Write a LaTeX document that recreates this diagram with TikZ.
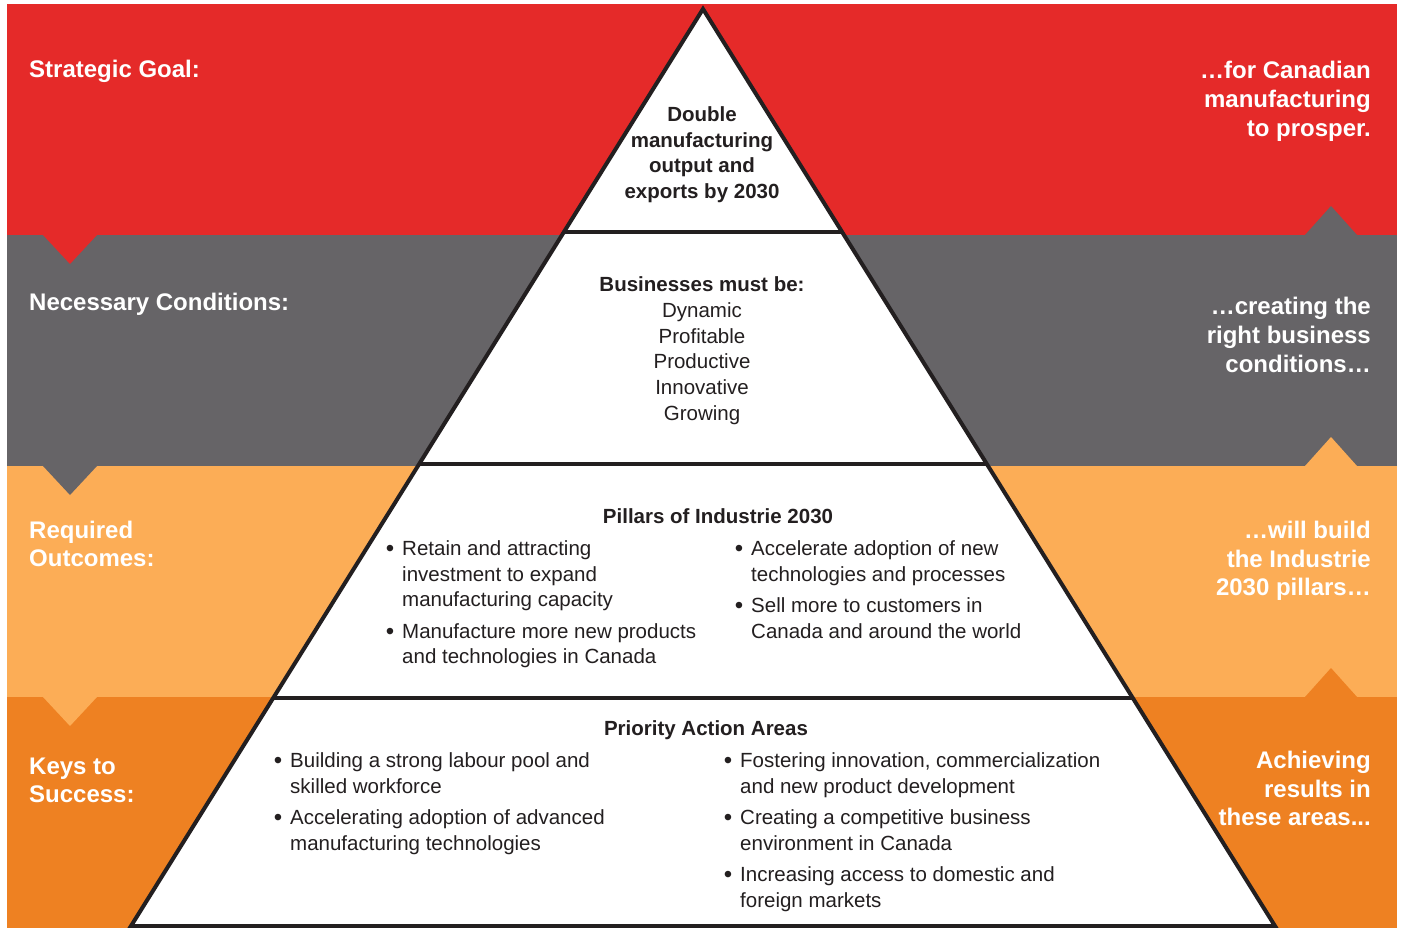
\documentclass[tikz,border=0pt]{standalone}
\usepackage{fontspec}
\setmainfont{Liberation Sans}
\usetikzlibrary{calc}
\definecolor{goalred}{HTML}{E52A29}
\definecolor{condgray}{HTML}{666467}
\definecolor{outlight}{HTML}{FCAD56}
\definecolor{keyorange}{HTML}{EE8122}
\definecolor{ink}{HTML}{231F20}
\begin{document}
\begin{tikzpicture}[x=1pt,y=-1pt,
  sidelabel/.style={inner sep=0pt, text=white, font=\fontsize{24}{28}\selectfont\bfseries},
  body/.style={inner sep=0pt, text=ink, font=\fontsize{20.5}{25}\selectfont},
  head/.style={inner sep=0pt, text=ink, font=\fontsize{20.5}{25}\selectfont\bfseries},
  dot/.style={inner sep=0pt, text=ink, font=\fontsize{24}{25}\selectfont},
  divider/.style={line width=4.5pt, ink}]
\useasboundingbox (0,0) rectangle (1401,928);
\fill[white] (0,0) rectangle (1401,928);

% coloured bands
\fill[goalred]    (7,4)   rectangle (1397,235);
\fill[condgray]   (7,235) rectangle (1397,466);
\fill[outlight]   (7,466) rectangle (1397,697);
\fill[keyorange]  (7,697) rectangle (1397,928);

% downward notches on the left
\fill[goalred]  (43,235) -- (97,235) -- (70,264) -- cycle;
\fill[condgray] (43,466) -- (97,466) -- (70,495) -- cycle;
\fill[outlight] (43,697) -- (97,697) -- (70,726) -- cycle;
% upward notches on the right
\fill[condgray]  (1305,235) -- (1357,235) -- (1331,206) -- cycle;
\fill[outlight]  (1305,466) -- (1357,466) -- (1331,437) -- cycle;
\fill[keyorange] (1305,697) -- (1357,697) -- (1331,668) -- cycle;

% pyramid
\coordinate (A) at (703,9);
\coordinate (BL) at (131,926);
\coordinate (BR) at (1275,926);
\draw[line width=4pt, ink, line join=miter, fill=white] (A) -- (BR) -- (BL) -- cycle;
\coordinate (l1) at ($(A)!0.2432!(BL)$);
\coordinate (r1) at ($(A)!0.2432!(BR)$);
\coordinate (l2) at ($(A)!0.4962!(BL)$);
\coordinate (r2) at ($(A)!0.4962!(BR)$);
\coordinate (l3) at ($(A)!0.7514!(BL)$);
\coordinate (r3) at ($(A)!0.7514!(BR)$);
\draw[divider] (l1) -- (r1);
\draw[divider] (l2) -- (r2);
\draw[divider] (l3) -- (r3);

% left side labels
\node[sidelabel, anchor=base west] (goalL) at (29,78) {Strategic Goal:};
\node[sidelabel, anchor=base west] (condL) at (29,311) {Necessary Conditions:};
\node[sidelabel, anchor=base west] (outL1) at (29,538) {Required};
\node[sidelabel, anchor=base west] (outL2) at (29,566) {Outcomes:};
\node[sidelabel, anchor=base west] (keyL1) at (29,774) {Keys to};
\node[sidelabel, anchor=base west] (keyL2) at (29,802) {Success:};

% right side labels
\node[sidelabel, anchor=base east] (goalR1) at (1371,79) {…for Canadian};
\node[sidelabel, anchor=base east] (goalR2) at (1371,108) {manufacturing};
\node[sidelabel, anchor=base east] (goalR3) at (1371,137) {to prosper.};
\node[sidelabel, anchor=base east] (condR1) at (1371,314) {…creating the};
\node[sidelabel, anchor=base east] (condR2) at (1371,343) {right business};
\node[sidelabel, anchor=base east] (condR3) at (1371,372) {conditions…};
\node[sidelabel, anchor=base east] (outR1) at (1371,538) {…will build};
\node[sidelabel, anchor=base east] (outR2) at (1371,567) {the Industrie};
\node[sidelabel, anchor=base east] (outR3) at (1371,595) {2030 pillars…};
\node[sidelabel, anchor=base east] (keyR1) at (1371,768) {Achieving};
\node[sidelabel, anchor=base east] (keyR2) at (1371,797) {results in};
\node[sidelabel, anchor=base east] (keyR3) at (1371,825) {these areas...};

% top tier: the goal
\node[head, anchor=base] (g1) at (702,122) {Double};
\node[head, anchor=base] (g2) at (702,148) {manufacturing};
\node[head, anchor=base] (g3) at (702,173) {output and};
\node[head, anchor=base] (g4) at (702,199) {exports by 2030};

% second tier: conditions
\node[head, anchor=base] (c0) at (702,291) {Businesses must be:};
\node[body, anchor=base] (c1) at (702,317) {Dynamic};
\node[body, anchor=base] (c2) at (702,343) {Profitable};
\node[body, anchor=base] (c3) at (702,368) {Productive};
\node[body, anchor=base] (c4) at (702,394) {Innovative};
\node[body, anchor=base] (c5) at (702,420) {Growing};

% third tier: pillars
\node[head, anchor=base] (p0) at (718,523) {Pillars of Industrie 2030};
\node[dot, anchor=base] (pb1) at (390,556) {•};
\node[body, anchor=base west] (p1a) at (402,555) {Retain and attracting};
\node[body, anchor=base west] (p1b) at (402,581) {investment to expand};
\node[body, anchor=base west] (p1c) at (402,606) {manufacturing capacity};
\node[dot, anchor=base] (pb2) at (390,639) {•};
\node[body, anchor=base west] (p2a) at (402,638) {Manufacture more new products};
\node[body, anchor=base west] (p2b) at (402,663) {and technologies in Canada};
\node[dot, anchor=base] (pb3) at (739,556) {•};
\node[body, anchor=base west] (p3a) at (751,555) {Accelerate adoption of new};
\node[body, anchor=base west] (p3b) at (751,581) {technologies and processes};
\node[dot, anchor=base] (pb4) at (739,613) {•};
\node[body, anchor=base west] (p4a) at (751,612) {Sell more to customers in};
\node[body, anchor=base west] (p4b) at (751,638) {Canada and around the world};

% bottom tier: priority action areas
\node[head, anchor=base] (a0) at (706,735) {Priority Action Areas};
\node[dot, anchor=base] (ab1) at (278,768) {•};
\node[body, anchor=base west] (a1a) at (290,767) {Building a strong labour pool and};
\node[body, anchor=base west] (a1b) at (290,793) {skilled workforce};
\node[dot, anchor=base] (ab2) at (278,825) {•};
\node[body, anchor=base west] (a2a) at (290,824) {Accelerating adoption of advanced};
\node[body, anchor=base west] (a2b) at (290,850) {manufacturing technologies};
\node[dot, anchor=base] (ab3) at (728,768) {•};
\node[body, anchor=base west] (a3a) at (740,767) {Fostering innovation, commercialization};
\node[body, anchor=base west] (a3b) at (740,793) {and new product development};
\node[dot, anchor=base] (ab4) at (728,825) {•};
\node[body, anchor=base west] (a4a) at (740,824) {Creating a competitive business};
\node[body, anchor=base west] (a4b) at (740,850) {environment in Canada};
\node[dot, anchor=base] (ab5) at (728,882) {•};
\node[body, anchor=base west] (a5a) at (740,881) {Increasing access to domestic and};
\node[body, anchor=base west] (a5b) at (740,907) {foreign markets};
\end{tikzpicture}
\end{document}
